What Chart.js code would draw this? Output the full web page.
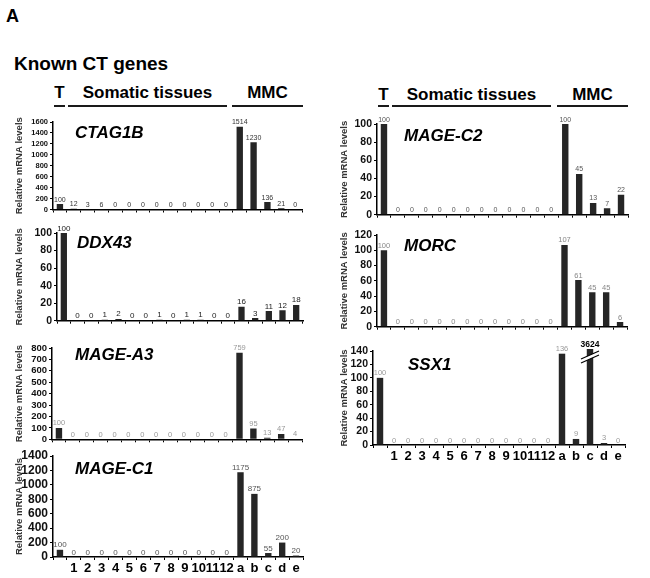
<!DOCTYPE html>
<html>
<head>
<meta charset="utf-8">
<script src="https://cdn.jsdelivr.net/npm/chart.js@4/dist/chart.umd.min.js"></script>
<style>
  body { margin: 0; background: #fff; font-family: Arial, 'Liberation Sans', sans-serif; }
  #page { position: relative; width: 650px; height: 578px; overflow: hidden; }
  #page canvas { position: absolute; }
  .txt { position: absolute; font-weight: bold; line-height: 1; white-space: nowrap; color: #000; }
  .grp { position: absolute; border-bottom: 2px solid #1a1a1a; text-align: center; font-weight: bold;
         font-size: 17px; line-height: 17px; white-space: nowrap; display: flex; justify-content: center; }
</style>
</head>
<body>
<div id="page">
  <div class="txt" style="left:6px; top:7px; font-size:18px;">A</div>
  <div class="txt" style="left:14px; top:54px; font-size:19px;">Known CT genes</div>
</div>
<script>
// Catégories (T = testis, 1-12 = tissus somatiques, a-e = lignées MMC)
const categories = ['T', '1', '2', '3', '4', '5', '6', '7', '8', '9', '10', '11', '12', 'a', 'b', 'c', 'd', 'e'];
const tickLabels = ['', '1', '2', '3', '4', '5', '6', '7', '8', '9', '10', '11', '12', 'a', 'b', 'c', 'd', 'e'];
const groupLabels = ['T', 'Somatic tissues', 'MMC'];

// Niveaux relatifs d'ARNm
const ctag1b = [100, 12, 3, 6, 0, 0, 0, 0, 0, 0, 0, 0, 0, 1514, 1230, 136, 21, 0];
const ddx43  = [100, 0, 0, 1, 2, 0, 0, 1, 0, 1, 1, 0, 0, 16, 3, 11, 12, 18];
const mageA3 = [100, 0, 0, 0, 0, 0, 0, 0, 0, 0, 0, 0, 0, 759, 95, 13, 47, 4];
const mageC1 = [100, 0, 0, 0, 0, 0, 0, 0, 0, 0, 0, 0, 0, 1175, 875, 55, 200, 20];
const mageC2 = [100, 0, 0, 0, 0, 0, 0, 0, 0, 0, 0, 0, 0, 100, 45, 13, 7, 22];
const morc   = [100, 0, 0, 0, 0, 0, 0, 0, 0, 0, 0, 0, 0, 107, 61, 45, 45, 6];
const ssx1   = [100, 0, 0, 0, 0, 0, 0, 0, 0, 0, 0, 0, 0, 136, 9, 3624, 3, 0];

const genes  = ['CTAG1B', 'DDX43', 'MAGE-A3', 'MAGE-C1', 'MAGE-C2', 'MORC', 'SSX1'];
const series = [ctag1b, ddx43, mageA3, mageC1, mageC2, morc, ssx1];
const yMaxes = [1600, 100, 800, 1400, 100, 120, 140];
const ySteps = [200, 20, 100, 200, 20, 20, 20];

const FONT = "Arial, 'Liberation Sans', sans-serif";
Chart.defaults.font.family = FONT;

// Mise en page de chaque panneau (position, taille, styles)
const panels = [
    { left: 0,   top: 122, plotH: 90,  yW: 53, right: 302, xLabels: false, tickSize: 7.5,  labelSize: 7,   labelColor: '#333', gx: 22, gy: 11 },
    { left: 0,   top: 233, plotH: 92,  yW: 57, right: 303, xLabels: false, tickSize: 10.5, labelSize: 8,   labelColor: '#222', gx: 20, gy: 10 },
    { left: 0,   top: 348, plotH: 95,  yW: 52, right: 302, xLabels: false, tickSize: 9.5,  labelSize: 7.5, labelColor: '#999', gx: 23, gy: 7 },
    { left: 0,   top: 456, plotH: 101, yW: 53, right: 303, xLabels: true,  tickSize: 12,   labelSize: 8,   labelColor: '#555', gx: 22, gy: 13 },
    { left: 325, top: 124, plotH: 95,  yW: 52, right: 628, xLabels: false, tickSize: 10.5, labelSize: 7,   labelColor: '#555', gx: 27, gy: 12 },
    { left: 325, top: 235, plotH: 96,  yW: 52, right: 627, xLabels: false, tickSize: 10.5, labelSize: 7.5, labelColor: '#888', gx: 27, gy: 11 },
    { left: 325, top: 351, plotH: 94,  yW: 48, right: 625, xLabels: true,  tickSize: 10.5, labelSize: 7.5, labelColor: '#999', gx: 35, gy: 14 }
];
const PAD_TOP = 14;
const CANVAS_W = 310;

// En-têtes de groupes (T / Somatic tissues / MMC) avec leurs traits
const headerCols = [
    { top: 84, height: 21, spans: [[54, 11], [68, 159], [232, 71]] },
    { top: 86, height: 19, spans: [[378, 11], [392, 159], [557, 71]] }
];

const page = document.getElementById('page');

function drawHeaders() {
    headerCols.forEach(col => {
        col.spans.forEach((span, i) => {
            const div = document.createElement('div');
            div.className = 'grp';
            div.style.left = span[0] + 'px';
            div.style.width = span[1] + 'px';
            div.style.top = col.top + 'px';
            div.style.height = col.height + 'px';
            div.textContent = groupLabels[i];
            page.appendChild(div);
        });
    });
}

// Étiquettes de valeurs, nom du gène et coupure d'axe
const panelDecor = {
    id: 'panelDecor',
    afterDatasetsDraw(chart, args, opts) {
        const { ctx, chartArea } = chart;
        const values = chart.data.datasets[0].data;
        const yMax = chart.scales.y.max;
        const meta = chart.getDatasetMeta(0);
        ctx.save();
        ctx.textAlign = 'center';
        ctx.textBaseline = 'alphabetic';
        meta.data.forEach((bar, i) => {
            const broken = values[i] > yMax;
            if (broken) {
                // double trait de coupure sur la barre
                const cx = bar.x, cy = chartArea.top + 6;
                ctx.fillStyle = '#fff';
                ctx.beginPath();
                ctx.moveTo(cx - 9, cy + 2);
                ctx.lineTo(cx + 9, cy - 6);
                ctx.lineTo(cx + 9, cy - 2);
                ctx.lineTo(cx - 9, cy + 6);
                ctx.closePath();
                ctx.fill();
                ctx.strokeStyle = '#000';
                ctx.lineWidth = 1.2;
                ctx.beginPath();
                ctx.moveTo(cx - 9, cy + 2); ctx.lineTo(cx + 9, cy - 6);
                ctx.moveTo(cx - 9, cy + 6); ctx.lineTo(cx + 9, cy - 2);
                ctx.stroke();
                ctx.font = 'bold 8.5px ' + FONT;
                ctx.fillStyle = '#000';
                ctx.fillText(String(values[i]), bar.x, chartArea.top - 4);
            } else {
                ctx.font = opts.labelSize + 'px ' + FONT;
                ctx.fillStyle = opts.labelColor;
                ctx.fillText(String(values[i]), bar.x, bar.y - 2.5);
            }
        });
        ctx.font = 'italic bold 17px ' + FONT;
        ctx.fillStyle = '#000';
        ctx.textAlign = 'left';
        ctx.textBaseline = 'middle';
        ctx.fillText(opts.gene, chartArea.left + opts.gx, chartArea.top + opts.gy);
        ctx.restore();
    }
};

function makePanel(idx) {
    const p = panels[idx];
    const xH = p.xLabels ? 22 : 4;
    const canvas = document.createElement('canvas');
    canvas.width = CANVAS_W;
    canvas.height = PAD_TOP + p.plotH + xH;
    canvas.style.left = p.left + 'px';
    canvas.style.top = (p.top - PAD_TOP) + 'px';
    page.appendChild(canvas);

    new Chart(canvas.getContext('2d'), {
        type: 'bar',
        data: {
            labels: categories,
            datasets: [{
                data: series[idx],
                backgroundColor: '#262626',
                borderWidth: 0,
                barPercentage: 0.46,
                categoryPercentage: 1,
                clip: { left: 5, top: 2, right: 5, bottom: 0 }
            }]
        },
        options: {
            responsive: false,
            animation: false,
            layout: { padding: { top: PAD_TOP, right: p.left + CANVAS_W - p.right, left: 0, bottom: 0 } },
            plugins: {
                legend: { display: false },
                tooltip: { enabled: false },
                panelDecor: { gene: genes[idx], labelSize: p.labelSize, labelColor: p.labelColor, gx: p.gx, gy: p.gy }
            },
            scales: {
                x: {
                    offset: true,
                    grid: { offset: true, drawOnChartArea: false, tickLength: 3, color: '#000', lineWidth: 1 },
                    border: { color: '#000', width: 1.5 },
                    ticks: {
                        display: p.xLabels,
                        autoSkip: false,
                        maxRotation: 0,
                        padding: 1,
                        color: '#000',
                        font: { size: 13, weight: 'bold' },
                        callback: (v, i) => tickLabels[i]
                    },
                    afterFit: scale => { scale.height = xH; }
                },
                y: {
                    min: 0,
                    max: yMaxes[idx],
                    grid: { drawOnChartArea: false, tickLength: 3, color: '#000', lineWidth: 1 },
                    border: { color: '#000', width: 1.5 },
                    ticks: {
                        stepSize: ySteps[idx],
                        autoSkip: false,
                        padding: 2,
                        color: '#111',
                        font: { size: p.tickSize, weight: 'bold' },
                        callback: v => String(v)
                    },
                    title: {
                        display: true,
                        text: 'Relative mRNA levels',
                        color: '#333',
                        font: { size: 9.5, weight: 'bold' },
                        padding: { top: 14, bottom: 0 }
                    },
                    afterFit: scale => { scale.width = p.yW; }
                }
            }
        },
        plugins: [panelDecor]
    });
}

drawHeaders();
series.forEach((s, i) => makePanel(i));
</script>
</body>
</html>
